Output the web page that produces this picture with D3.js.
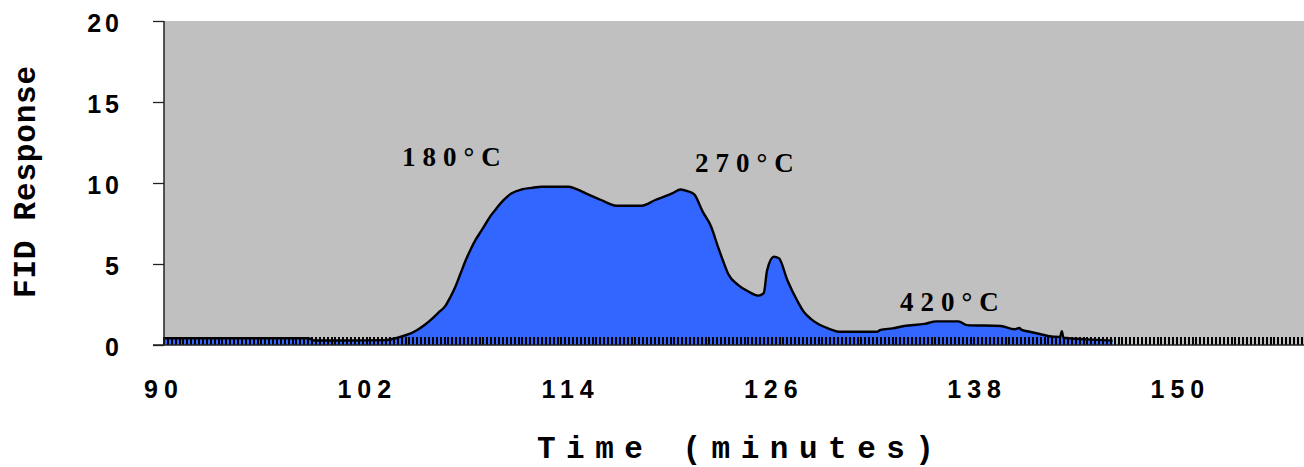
<!DOCTYPE html>
<html>
<head>
<meta charset="utf-8">
<script src="https://cdn.jsdelivr.net/npm/d3@7"></script>
<style>
  html, body { margin: 0; padding: 0; background: #ffffff; }
  svg { display: block; }
</style>
</head>
<body>
<svg id="chart" width="1304" height="467"></svg>
<script>
// ---- data ----
const times = [90, 92, 94, 96, 98.5, 98.9, 101, 103, 103.8, 104.4, 104.9, 105.4, 105.8, 106.2, 106.6, 106.9,
  107.2, 107.5, 107.8, 108.1, 108.4, 108.7, 109.0, 109.3, 109.6, 110.0, 110.5, 111.1, 111.7, 112.3, 113.9,
  114.4, 114.9, 115.8, 116.7, 118.2, 119.0, 120.0, 120.5, 120.9, 121.3, 121.8, 122.3, 122.7, 123.0, 123.3,
  123.9, 124.5, 125.1, 125.4, 125.6, 126.0, 126.3, 126.8, 127.4, 127.8, 128.2, 128.7, 129.2, 129.9, 132.1,
  132.3, 133.0, 133.7, 134.9, 135.6, 136.9, 137.4, 139.4, 140.2, 140.5, 140.6, 141.1, 141.7, 142.5, 142.9,
  143.0, 143.1, 144.5, 146.0];
const fid = [0.42, 0.42, 0.42, 0.42, 0.42, 0.28, 0.28, 0.30, 0.45, 0.65, 0.9, 1.25, 1.6, 2.0, 2.4, 2.95,
  3.6, 4.4, 5.2, 5.9, 6.5, 7.0, 7.5, 8.0, 8.4, 8.9, 9.35, 9.6, 9.7, 9.77, 9.77,
  9.6, 9.36, 8.95, 8.6, 8.6, 8.95, 9.36, 9.6, 9.5, 9.3, 8.23, 7.3, 6.07, 5.2, 4.4,
  3.7, 3.3, 3.05, 3.2, 4.6, 5.45, 5.35, 4.0, 2.7, 2.0, 1.6, 1.25, 1.03, 0.82, 0.82,
  0.93, 1.03, 1.17, 1.3, 1.46, 1.46, 1.23, 1.17, 0.97, 1.05, 0.95, 0.82, 0.68, 0.51, 0.5,
  0.85, 0.45, 0.35, 0.27];

const xTickLabels = [90, 102, 114, 126, 138, 150];
const yTickLabels = [0, 5, 10, 15, 20];
const minorTickStep = 0.23; // category tick spacing in minutes

const annotTexts = ["180\u00B0C", "270\u00B0C", "420\u00B0C"];
const annotTimes = [104.05, 121.35, 133.45];
const annotValues = [11.05, 10.7, 2.1];

const xTitle = "Time (minutes)";
const yTitle = "FID Response";

// ---- layout ----
const plotLeft = 164, plotRight = 1304, plotTop = 21, plotBottom = 345;
const pxPerMin = 16.94;
const xMax = 90 + (plotRight - plotLeft) / pxPerMin;

const x = d3.scaleLinear().domain([90, xMax]).range([plotLeft, plotRight]);
const y = d3.scaleLinear().domain([0, 20]).range([plotBottom, plotTop]);

const svg = d3.select("#chart");

// plot background
svg.append("rect")
  .attr("x", plotLeft).attr("y", plotTop)
  .attr("width", plotRight - plotLeft).attr("height", plotBottom - plotTop)
  .attr("fill", "#C0C0C0");

const data = times.map((t, i) => ({ t: t, v: fid[i] }));

// area
svg.append("path")
  .datum(data)
  .attr("fill", "#3366FF")
  .attr("d", d3.area().x(d => x(d.t)).y0(y(0)).y1(d => y(d.v)).curve(d3.curveMonotoneX));

// outline
svg.append("path")
  .datum(data)
  .attr("fill", "none")
  .attr("stroke", "#000")
  .attr("stroke-width", 2.4)
  .attr("stroke-linejoin", "round")
  .attr("d", d3.line().x(d => x(d.t)).y(d => y(d.v)).curve(d3.curveMonotoneX));

// dense category ticks along the bottom
const minorTicks = d3.range(90, xMax + 0.001, minorTickStep);
svg.append("g")
  .attr("shape-rendering", "crispEdges")
  .selectAll("rect")
  .data(minorTicks)
  .join("rect")
  .attr("x", d => Math.round(x(d)) - 1)
  .attr("width", 2)
  .attr("y", plotBottom - 8)
  .attr("height", 8)
  .attr("fill", "#000");

// y axis
const yAxis = d3.axisLeft(y).tickValues(yTickLabels).tickSize(11).tickFormat("");
const gy = svg.append("g").attr("transform", `translate(${plotLeft},0)`).call(yAxis);
gy.select(".domain").attr("stroke", "#222").attr("stroke-width", 1.5).attr("d", `M0,${plotTop}V${plotBottom}`);
gy.selectAll(".tick line").attr("stroke", "#222").attr("stroke-width", 1.3);

// x axis baseline
const xAxis = d3.axisBottom(x).tickValues([]).tickSizeOuter(0);
const gx = svg.append("g").attr("transform", `translate(0,${plotBottom})`).call(xAxis);
gx.select(".domain").attr("stroke", "#222").attr("stroke-width", 1.5).attr("d", `M${plotLeft - 11},0H${plotRight}`);

// tick labels
const tickFont = "'Liberation Sans', Arial, sans-serif";
const tickLS = 4;
svg.append("g")
  .selectAll("text")
  .data(yTickLabels)
  .join("text")
  .attr("x", 119 + tickLS)
  .attr("y", d => y(d) + 11)
  .attr("text-anchor", "end")
  .style("font-family", tickFont)
  .style("font-weight", "bold")
  .style("font-size", "25px")
  .style("letter-spacing", tickLS + "px")
  .attr("fill", "#000")
  .text(d => d);

svg.append("g")
  .selectAll("text")
  .data(xTickLabels)
  .join("text")
  .attr("x", d => x(d) - 3 + (tickLS + 2) / 2)
  .attr("y", 398)
  .attr("text-anchor", "middle")
  .style("font-family", tickFont)
  .style("font-weight", "bold")
  .style("font-size", "25px")
  .style("letter-spacing", (tickLS + 2) + "px")
  .attr("fill", "#000")
  .text(d => d);

// annotations
svg.append("g")
  .selectAll("text")
  .data(annotTexts)
  .join("text")
  .attr("x", (d, i) => x(annotTimes[i]))
  .attr("y", (d, i) => y(annotValues[i]))
  .style("font-family", "'Liberation Serif', 'Times New Roman', serif")
  .style("font-weight", "bold")
  .style("font-size", "27px")
  .style("letter-spacing", "7px")
  .attr("fill", "#000")
  .text(d => d);

// axis titles
const titleFont = "'Liberation Mono', 'Courier New', monospace";
svg.append("text")
  .attr("x", 537)
  .attr("y", 458)
  .style("font-family", titleFont)
  .style("font-weight", "bold")
  .style("font-size", "31px")
  .style("letter-spacing", "10.5px")
  .attr("fill", "#000")
  .text(xTitle);

svg.append("text")
  .attr("transform", "translate(35,298) rotate(-90)")
  .style("font-family", titleFont)
  .style("font-weight", "bold")
  .style("font-size", "31px")
  .style("letter-spacing", "0.8px")
  .attr("fill", "#000")
  .text(yTitle);
</script>
</body>
</html>
